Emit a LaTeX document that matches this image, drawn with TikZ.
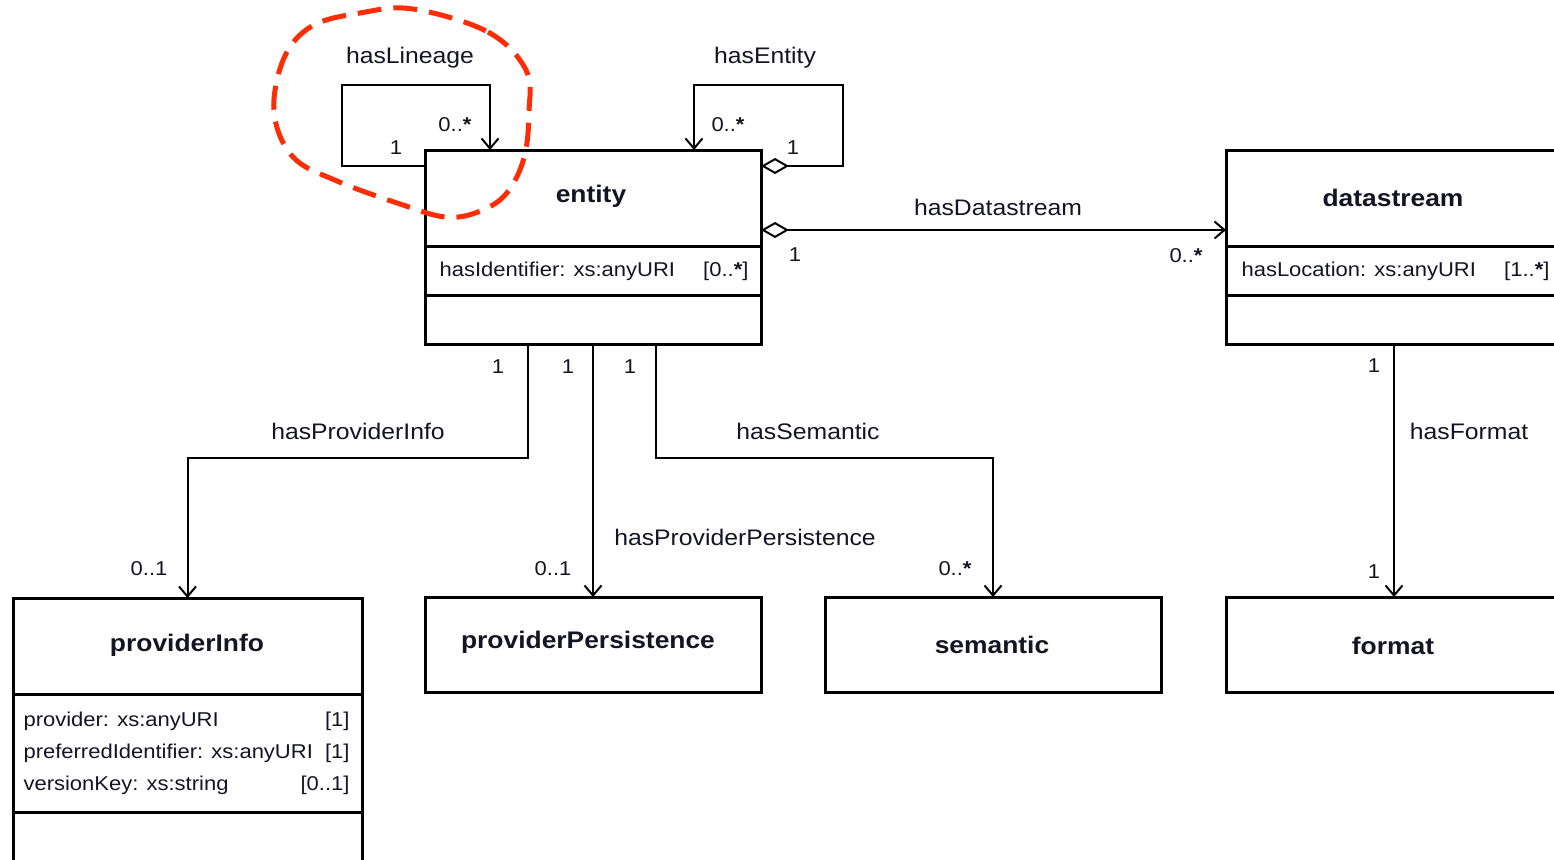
\documentclass[tikz,border=0pt]{standalone}
\usepackage{fontspec}
\setmainfont{Liberation Sans}[FakeStretch=1.1]
\usetikzlibrary{arrows.meta,calc}
\definecolor{txt}{RGB}{20,20,35}
\definecolor{mark}{RGB}{255,45,5}
\begin{document}
\begin{tikzpicture}[x=1pt,y=-1pt,
  box/.style={draw, line width=3pt, minimum width=336pt, inner sep=0pt, outer sep=0pt, anchor=north west},
  divider/.style={line width=3pt},
  ttl/.style={font=\fontsize{24}{28}\selectfont\bfseries, text=txt},
  lbl/.style={font=\fontsize{22.5}{26}\selectfont, text=txt},
  mult/.style={font=\fontsize{20}{24}\selectfont, text=txt},
  attr/.style={font=\fontsize{20}{24}\selectfont, text=txt, anchor=west},
  attrr/.style={font=\fontsize{20}{24}\selectfont, text=txt, anchor=east},
  assoc/.style={line width=2pt},
  openarr/.style={-{Straight Barb[length=10pt,width=17pt,line width=2pt]}},
  aggarr/.style={{Diamond[open,length=28pt,width=16pt,line width=2pt]}-{Straight Barb[length=10pt,width=17pt,line width=2pt]}},
  redloop/.style={draw=mark, line width=5pt, dash pattern=on 24pt off 12pt}
]
\useasboundingbox (0,0) rectangle (1554,859);
\clip (0,0) rectangle (1554,859);

% classes
\node[box, minimum height=194pt] (entity) at (425,150) {};
\node[box, minimum height=194pt] (ds) at (1226,150) {};
\node[box, minimum width=349pt, minimum height=300pt] (pi) at (13,598) {};
\node[box, minimum height=95pt] (pp) at (425,597) {};
\node[box, minimum height=95pt] (sem) at (825,597) {};
\node[box, minimum height=95pt] (fmt) at (1226,597) {};

% compartments
\draw[divider] ($(entity.north west)+(0,96)$) -- ($(entity.north east)+(0,96)$);
\draw[divider] ($(entity.north west)+(0,145)$) -- ($(entity.north east)+(0,145)$);
\draw[divider] ($(ds.north west)+(0,96)$) -- ($(ds.north east)+(0,96)$);
\draw[divider] ($(ds.north west)+(0,145)$) -- ($(ds.north east)+(0,145)$);
\draw[divider] ($(pi.north west)+(0,96)$) -- ($(pi.north east)+(0,96)$);
\draw[divider] ($(pi.north west)+(0,214)$) -- ($(pi.north east)+(0,214)$);

% titles
\node[ttl] (entityT) at (591,196) {entity};
\node[ttl] (dsT) at (1393,198) {datastream};
\node[ttl] (piT) at (187,645) {providerInfo};
\node[ttl] (ppT) at (588,642) {providerPersistence};
\node[ttl] (semT) at (992,645) {semantic};
\node[ttl] (fmtT) at (1393,646) {format};

% attributes
\node[attr] (a1) at (436,271) {hasIdentifier: xs:anyURI};
\node[attrr] (a1m) at (752,271) {[0..\textbf{*}]};
\node[attr] (a2) at (1238,271) {hasLocation: xs:anyURI};
\node[attrr] (a2m) at (1553,271) {[1..\textbf{*}]};
\node[attr] (a3) at (20,721) {provider: xs:anyURI};
\node[attrr] (a3m) at (353,721) {[1]};
\node[attr] (a4) at (20,753) {preferredIdentifier: xs:anyURI};
\node[attrr] (a4m) at (353,753) {[1]};
\node[attr] (a5) at (20,785) {versionKey: xs:string};
\node[attrr] (a5m) at (353,785) {[0..1]};

% connector anchor points
\coordinate (eL1) at ($(entity.north west)+(0,16)$);
\coordinate (eT1) at ($(entity.north west)+(65,0)$);
\coordinate (eR1) at ($(entity.north east)+(0,16)$);
\coordinate (eT2) at ($(entity.north west)+(269,0)$);
\coordinate (eR2) at ($(entity.north east)+(0,80)$);
\coordinate (eB1) at ($(entity.south west)+(103,0)$);
\coordinate (eB3) at ($(entity.south west)+(231,0)$);

% hasLineage
\draw[assoc, openarr] (eL1) -- ++(-83,0) -- ++(0,-81) -| (eT1);
% hasEntity
\draw[assoc, aggarr] (eR1) -- ++(82,0) -- ++(0,-81) -| (eT2);
% hasDatastream
\draw[assoc, aggarr] (eR2) -- (eR2 -| ds.west);
% hasProviderInfo
\draw[assoc, openarr] (eB1) -- ++(0,114) -| (pi.north);
% hasProviderPersistence
\draw[assoc, openarr] (entity.south) -- (pp.north);
% hasSemantic
\draw[assoc, openarr] (eB3) -- ++(0,114) -| (sem.north);
% hasFormat
\draw[assoc, openarr] (ds.south) -- (fmt.north);

% association labels
\node[lbl] (lLin) at (410,58) {hasLineage};
\node[lbl] (lEnt) at (765,58) {hasEntity};
\node[lbl] (lDs) at (998,207) {hasDatastream};
\node[lbl] (lPi) at (358,431) {hasProviderInfo};
\node[lbl] (lSem) at (808,431) {hasSemantic};
\node[lbl] (lPp) at (745,537) {hasProviderPersistence};
\node[lbl] (lFmt) at (1469,431) {hasFormat};

% multiplicities
\node[mult] (m1) at (396,148) {1};
\node[mult] (m2) at (455,125) {0..\textbf{*}};
\node[mult] (m3) at (728,125) {0..\textbf{*}};
\node[mult] (m4) at (793,148) {1};
\node[mult] (m5) at (795,255) {1};
\node[mult] (m6) at (1186,256) {0..\textbf{*}};
\node[mult] (m7) at (498,367) {1};
\node[mult] (m8) at (568,367) {1};
\node[mult] (m9) at (630,367) {1};
\node[mult] (m10) at (149,569) {0..1};
\node[mult] (m11) at (553,569) {0..1};
\node[mult] (m12) at (955,569) {0..\textbf{*}};
\node[mult] (m13) at (1374,366) {1};
\node[mult] (m14) at (1374,572) {1};

% red highlight
\draw[redloop] plot[smooth cycle, tension=0.6] coordinates {
  (413,9) (488,32) (526,70) (529,112) (524,158) (506,194) (478,212)
  (445,217) (400,204) (337,181) (293,157) (274,112) (284,58) (312,26) (360,13)};
\end{tikzpicture}
\end{document}
